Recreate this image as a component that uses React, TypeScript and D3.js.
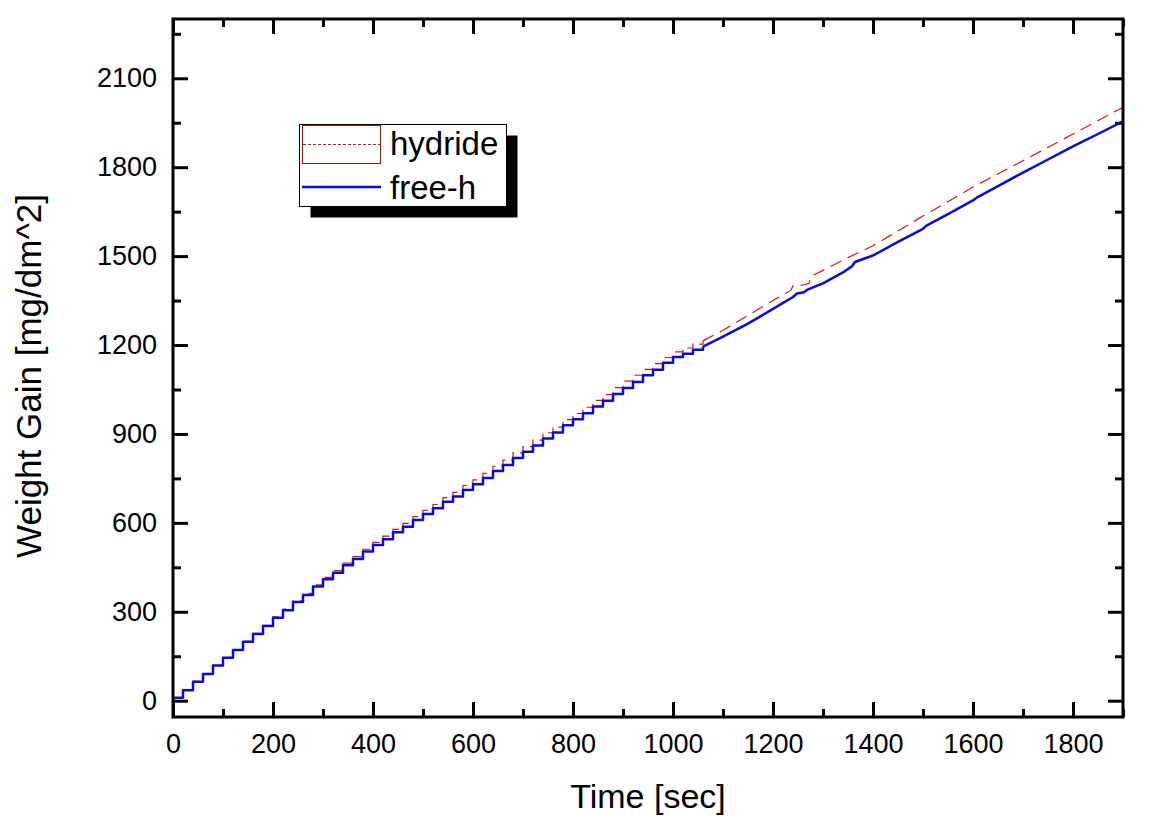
import React, { useEffect, useRef } from 'react';
import * as d3 from 'd3';

// time (sec) of the stair-step samples, 0..1060
const stepTimes = [
  0, 20, 40, 60, 80, 100, 120, 140, 160, 180, 200, 220, 240, 260, 280, 300, 320, 340,
  360, 380, 400, 420, 440, 460, 480, 500, 520, 540, 560, 580, 600, 620, 640, 660, 680,
  700, 720, 740, 760, 780, 800, 820, 840, 860, 880, 900, 920, 940, 960, 980, 1000, 1020,
  1040, 1060,
];

const freeHSteps = [
  10, 35, 64, 90, 119, 145, 171, 199, 225, 252, 280, 305, 333, 357, 385, 410, 432, 457,
  478, 503, 525, 545, 568, 587, 610, 630, 649, 671, 689, 711, 730, 751, 775, 795, 819,
  840, 861, 885, 905, 929, 950, 970, 993, 1012, 1035, 1055, 1075, 1098, 1117, 1140, 1160,
  1171, 1184, 1195,
];

const hydrideSteps = [
  10, 36, 65, 91, 120, 146, 172, 200, 227, 254, 283, 309, 337, 362, 391, 416, 439, 464,
  486, 511, 534, 555, 578, 598, 621, 642, 662, 685, 703, 726, 745, 767, 791, 812, 836,
  857, 879, 904, 923, 948, 969, 990, 1013, 1033, 1056, 1078, 1098, 1118, 1137, 1158, 1177,
  1190, 1203, 1214,
];

// smooth part after the steps
const freeHTailTimes = [
  1060, 1100, 1150, 1200, 1240, 1248, 1262, 1270, 1300, 1340, 1358, 1364, 1400, 1450,
  1500, 1506, 1550, 1600, 1608, 1614, 1650, 1700, 1750, 1800, 1850, 1900,
];
const freeHTail = [
  1195, 1228, 1272, 1322, 1362, 1374, 1378, 1388, 1408, 1445, 1466, 1480, 1502, 1548,
  1592, 1602, 1642, 1688, 1698, 1703, 1736, 1782, 1826, 1870, 1912, 1955,
];

const hydrideTailTimes = [
  1060, 1100, 1150, 1200, 1236, 1240, 1262, 1272, 1276, 1300, 1350, 1400, 1500, 1600,
  1700, 1800, 1900,
];
const hydrideTail = [
  1214, 1250, 1300, 1350, 1385, 1400, 1403, 1408, 1432, 1452, 1495, 1535, 1635, 1733,
  1822, 1912, 2002,
];

const xMajor = [0, 200, 400, 600, 800, 1000, 1200, 1400, 1600, 1800];
const xMinor = [100, 300, 500, 700, 900, 1100, 1300, 1500, 1700, 1900];
const yMajor = [0, 300, 600, 900, 1200, 1500, 1800, 2100];
const yMinor = [150, 450, 750, 1050, 1350, 1650, 1950, 2250];

const seriesNames = ['hydride', 'free-h'];

function drawChart(el: SVGSVGElement) {
  const width = 1164;
  const height = 824;
  const left = 173,
    right = 1123,
    top = 19,
    bottom = 717;
  const font = 'Arial, "Liberation Sans", sans-serif';

  const svg = d3.select(el);
  svg.selectAll('*').remove();
  svg.attr('width', width).attr('height', height).attr('viewBox', [0, 0, width, height]);

  const x = d3.scaleLinear().domain([0, 1900]).range([left, right]);
  const y = d3.scaleLinear().domain([-55, 2300]).range([bottom, top]);

  svg
    .append('defs')
    .append('clipPath')
    .attr('id', 'plot-clip')
    .append('rect')
    .attr('x', left)
    .attr('y', top)
    .attr('width', right - left)
    .attr('height', bottom - top);

  const styleAxis = (g, size) => {
    g.select('.domain').remove();
    g.selectAll('.tick line').attr('stroke', '#000').attr('stroke-width', 3);
    g.selectAll('.tick text')
      .attr('font-family', font)
      .attr('font-size', size)
      .attr('fill', '#000');
  };

  // bottom axis, inward ticks
  svg
    .append('g')
    .attr('transform', `translate(0,${bottom})`)
    .call(d3.axisBottom(x).tickValues(xMajor).tickSize(-15).tickPadding(17).tickFormat(d3.format('d')))
    .call((g) => styleAxis(g, 27));
  svg
    .append('g')
    .attr('transform', `translate(0,${bottom})`)
    .call(d3.axisBottom(x).tickValues(xMinor).tickSize(-8).tickFormat(() => ''))
    .call((g) => styleAxis(g, 27));
  // top mirror
  svg
    .append('g')
    .attr('transform', `translate(0,${top})`)
    .call(d3.axisTop(x).tickValues(xMajor).tickSize(-15).tickFormat(() => ''))
    .call((g) => styleAxis(g, 27));
  svg
    .append('g')
    .attr('transform', `translate(0,${top})`)
    .call(d3.axisTop(x).tickValues(xMinor).tickSize(-8).tickFormat(() => ''))
    .call((g) => styleAxis(g, 27));

  // left axis
  svg
    .append('g')
    .attr('transform', `translate(${left},0)`)
    .call(d3.axisLeft(y).tickValues(yMajor).tickSize(-15).tickPadding(16).tickFormat(d3.format('d')))
    .call((g) => styleAxis(g, 27));
  svg
    .append('g')
    .attr('transform', `translate(${left},0)`)
    .call(d3.axisLeft(y).tickValues(yMinor).tickSize(-8).tickFormat(() => ''))
    .call((g) => styleAxis(g, 27));
  // right mirror
  svg
    .append('g')
    .attr('transform', `translate(${right},0)`)
    .call(d3.axisRight(y).tickValues(yMajor).tickSize(-15).tickFormat(() => ''))
    .call((g) => styleAxis(g, 27));
  svg
    .append('g')
    .attr('transform', `translate(${right},0)`)
    .call(d3.axisRight(y).tickValues(yMinor).tickSize(-8).tickFormat(() => ''))
    .call((g) => styleAxis(g, 27));

  // lines
  const stepLine = d3
    .line()
    .curve(d3.curveStepAfter)
    .x((d) => x(d[0]))
    .y((d) => y(d[1]));
  const smoothLine = d3
    .line()
    .x((d) => x(d[0]))
    .y((d) => y(d[1]));

  const plot = svg.append('g').attr('clip-path', 'url(#plot-clip)').attr('fill', 'none');

  const hydrideStepPts = stepTimes.map((t, i) => [t, hydrideSteps[i]]);
  const hydrideTailPts = hydrideTailTimes.map((t, i) => [t, hydrideTail[i]]);
  const freeStepPts = stepTimes.map((t, i) => [t, freeHSteps[i]]);
  const freeTailPts = freeHTailTimes.map((t, i) => [t, freeHTail[i]]);

  const red = '#d01818';
  const blue = '#0a0ad8';

  plot
    .append('path')
    .attr('d', stepLine(hydrideStepPts))
    .attr('stroke', red)
    .attr('stroke-width', 1.2)
    .attr('stroke-dasharray', '10,6');
  plot
    .append('path')
    .attr('d', smoothLine(hydrideTailPts))
    .attr('stroke', red)
    .attr('stroke-width', 1.2)
    .attr('stroke-dasharray', '12,7');

  plot
    .append('path')
    .attr('d', stepLine(freeStepPts))
    .attr('stroke', blue)
    .attr('stroke-width', 2.5)
    .attr('stroke-linejoin', 'round');
  plot
    .append('path')
    .attr('d', smoothLine(freeTailPts))
    .attr('stroke', blue)
    .attr('stroke-width', 2.5)
    .attr('stroke-linejoin', 'round');

  // frame
  svg
    .append('rect')
    .attr('x', left)
    .attr('y', top)
    .attr('width', right - left)
    .attr('height', bottom - top)
    .attr('fill', 'none')
    .attr('stroke', '#000')
    .attr('stroke-width', 3);

  // axis titles
  svg
    .append('text')
    .attr('x', (left + right) / 2)
    .attr('y', 808)
    .attr('text-anchor', 'middle')
    .attr('font-family', font)
    .attr('font-size', 34)
    .text('Time [sec]');
  svg
    .append('text')
    .attr('transform', `translate(41,376) rotate(-90)`)
    .attr('text-anchor', 'middle')
    .attr('font-family', font)
    .attr('font-size', 35)
    .text('Weight Gain [mg/dm^2]');

  // legend
  const lg = svg.append('g');
  const lx = 299.5,
    ly = 124.5,
    lw = 207,
    lh = 82;
  lg.append('rect')
    .attr('x', lx + 11)
    .attr('y', ly + 11)
    .attr('width', lw)
    .attr('height', lh)
    .attr('fill', '#000');
  lg.append('rect')
    .attr('x', lx)
    .attr('y', ly)
    .attr('width', lw)
    .attr('height', lh)
    .attr('fill', '#fff')
    .attr('stroke', '#000')
    .attr('stroke-width', 1);
  // hydride sample: outlined box with short dashes
  lg.append('rect')
    .attr('x', 302.5)
    .attr('y', 125.5)
    .attr('width', 78)
    .attr('height', 38)
    .attr('fill', 'none')
    .attr('stroke', '#a01010')
    .attr('stroke-width', 1);
  lg.append('line')
    .attr('x1', 303)
    .attr('x2', 380)
    .attr('y1', 144.5)
    .attr('y2', 144.5)
    .attr('stroke', red)
    .attr('stroke-width', 1)
    .attr('stroke-dasharray', '3,2');
  lg.append('line')
    .attr('x1', 302)
    .attr('x2', 381)
    .attr('y1', 187)
    .attr('y2', 187)
    .attr('stroke', blue)
    .attr('stroke-width', 2.5);
  lg.selectAll('text.lab')
    .data(seriesNames)
    .join('text')
    .attr('class', 'lab')
    .attr('x', 390)
    .attr('y', (d, i) => (i === 0 ? 155 : 199))
    .attr('font-family', font)
    .attr('font-size', 33)
    .attr('fill', '#000')
    .text((d) => d);
}

export default function App() {
  const ref = useRef<SVGSVGElement>(null);

  useEffect(() => {
    if (ref.current) drawChart(ref.current);
  }, []);

  return (
    <div style={{ position: 'absolute', left: 0, top: 0, width: 1164, height: 824, background: '#fff' }}>
      <svg ref={ref} style={{ display: 'block' }} />
    </div>
  );
}
